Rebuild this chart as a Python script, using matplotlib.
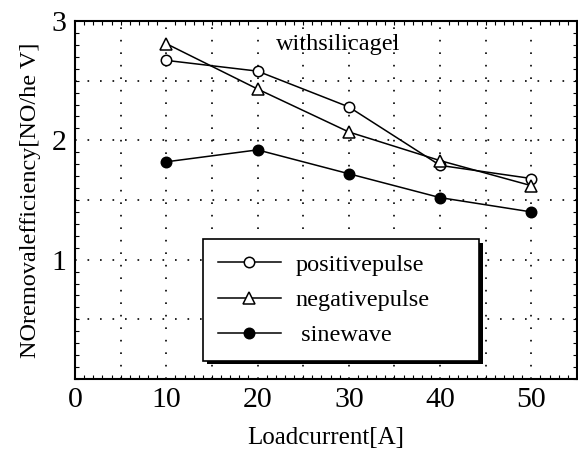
import matplotlib
matplotlib.use("Agg")
from matplotlib import pyplot as plt
from matplotlib.ticker import MultipleLocator
import matplotlib.patheffects as pe

plt.rcParams["font.family"] = ["Liberation Serif", "DejaVu Serif"]

current = [10, 20, 30, 40, 50]
positive_pulse = [2.67, 2.58, 2.28, 1.79, 1.68]
negative_pulse = [2.81, 2.43, 2.07, 1.83, 1.62]
sine_wave = [1.82, 1.92, 1.72, 1.52, 1.40]

fig = plt.figure(figsize=(5.78, 4.49), dpi=100)
ax = fig.add_axes([75 / 578, 1 - 379 / 449, 502 / 578, 358 / 449])

kw = dict(color="black", lw=1.1, markeredgewidth=1.1, clip_on=False, zorder=3)
ax.plot(current, positive_pulse, marker="o", mfc="white", ms=7.5, label="positivepulse", **kw)
ax.plot(current, negative_pulse, marker="^", mfc="white", ms=8.5, label="negativepulse", **kw)
ax.plot(current, sine_wave, marker="o", mfc="black", ms=7.5, label=" sinewave", **kw)

ax.set_xlim(0, 55)
ax.set_ylim(0, 3)
ax.set_xticks([0, 10, 20, 30, 40, 50])
ax.set_yticks([1, 2, 3])
ax.xaxis.set_minor_locator(MultipleLocator(1))
ax.yaxis.set_minor_locator(MultipleLocator(0.1))
ax.tick_params(which="both", direction="in", top=True, right=True, labelsize=21.5)
ax.tick_params(which="major", length=0, pad=6)
ax.tick_params(which="minor", length=3, width=0.8)
for s in ax.spines.values():
    s.set_linewidth(1.5)

# dotted grid at every 5 A and 0.5 units
for gx in range(5, 55, 5):
    ax.axvline(gx, color="black", lw=1.2, ls=(0, (1, 6.5)), zorder=1)
for gy in [0.5, 1.0, 1.5, 2.0, 2.5]:
    ax.axhline(gy, color="black", lw=1.2, ls=(0, (1, 6.5)), zorder=1)

ax.text(22.0, 2.8, "withsilicagel", fontsize=17.5, va="center", ha="left")

ax.set_xlabel("Loadcurrent[A]", fontsize=18, labelpad=10)
ax.set_ylabel("NOremovalefficiency[NO/he V]", fontsize=17.5, labelpad=8)

leg = ax.legend(loc="lower left", bbox_to_anchor=((203 - 75) / 502, (379 - 361) / 358,
                                                  (479 - 203) / 502, (361 - 239) / 358),
                mode="expand", borderaxespad=0, fontsize=17.5, handlelength=2.6,
                handletextpad=0.6, labelspacing=0.55, borderpad=0.6, fancybox=False,
                framealpha=1, edgecolor="black")
leg.get_frame().set_linewidth(1.2)
leg.get_frame().set_path_effects([pe.SimplePatchShadow(offset=(3, -2.5), shadow_rgbFace="black", alpha=1),
                                  pe.Normal()])
leg.set_zorder(5)

fig.savefig("out.png", dpi=100)
